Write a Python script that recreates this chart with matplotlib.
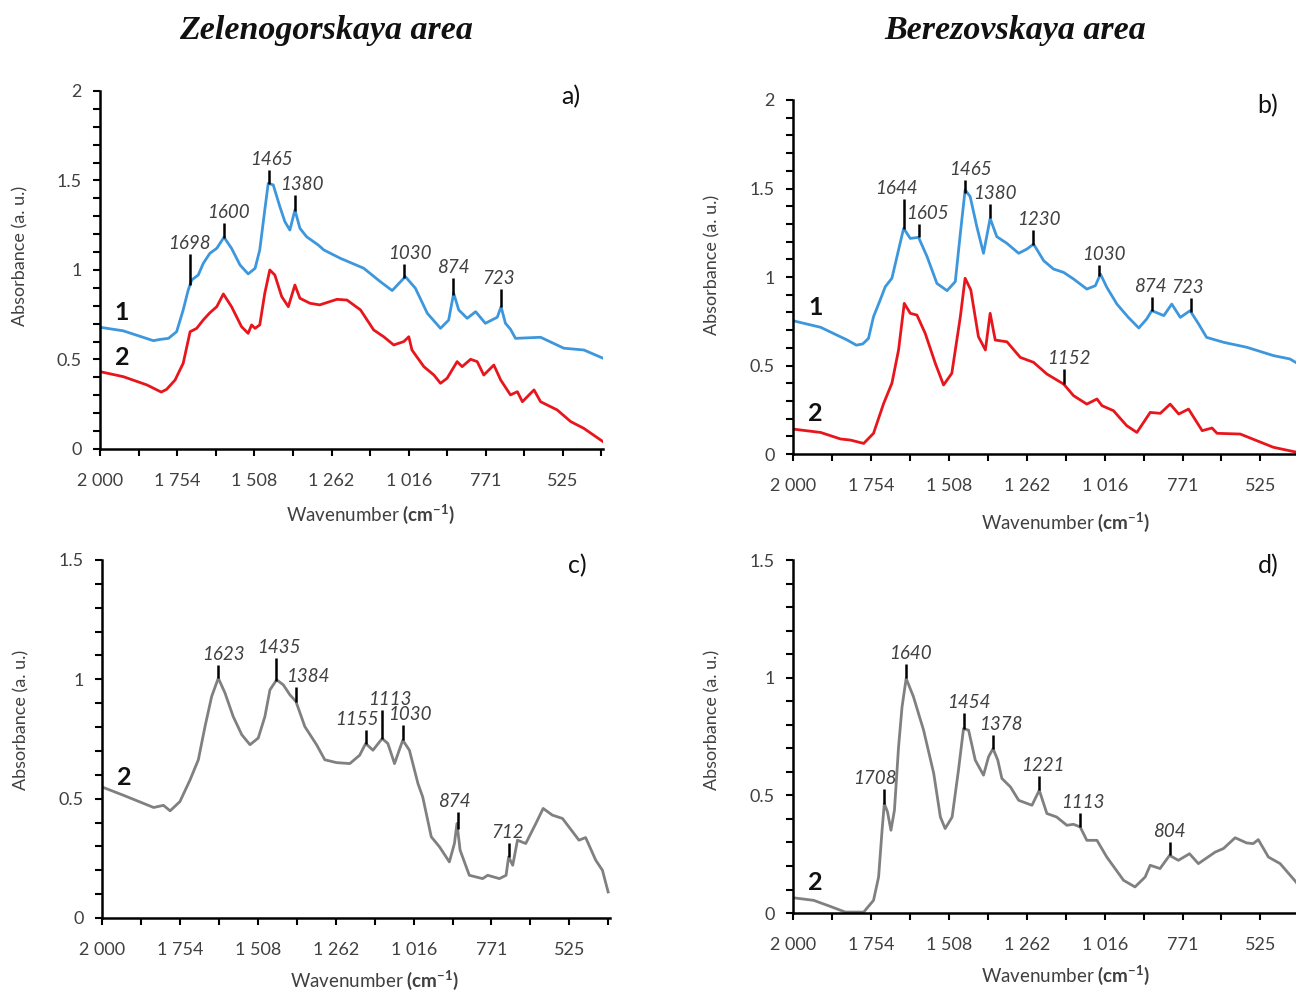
import matplotlib
matplotlib.use("Agg")
import matplotlib.pyplot as plt
import numpy as np

plt.rcParams['font.family'] = ['Lato', 'DejaVu Sans']
plt.rcParams['mathtext.fontset'] = 'custom'
plt.rcParams['mathtext.rm'] = 'Lato'
plt.rcParams['mathtext.bf'] = 'Lato:bold'

BLUE = '#3d97dd'
RED = '#e8161c'
GRAY = '#808080'
TXT = '#404040'

titles = ["Zelenogorskaya area", "Berezovskaya area"]
xtick_vals = [2000, 1754, 1508, 1262, 1016, 771, 525]
xtick_labels = ["2 000", "1 754", "1 508", "1 262", "1 016", "771", "525"]

# (wavenumber, absorbance)
a_curve1 = [(2000, 0.68), (1926, 0.66), (1830, 0.605), (1809, 0.612), (1782, 0.618), (1756, 0.655),
            (1735, 0.777), (1719, 0.888), (1708, 0.944), (1687, 0.972), (1671, 1.037), (1650, 1.093),
            (1628, 1.121), (1605, 1.183), (1581, 1.121), (1554, 1.028), (1528, 0.978), (1506, 1.009),
            (1491, 1.112), (1475, 1.335), (1464, 1.484), (1448, 1.475), (1427, 1.354), (1411, 1.27),
            (1395, 1.223), (1379, 1.335), (1363, 1.233), (1342, 1.186), (1305, 1.14), (1287, 1.112),
            (1234, 1.065), (1160, 1.01), (1107, 0.935), (1069, 0.885), (1027, 0.963),
            (995, 0.898), (957, 0.758), (915, 0.674), (889, 0.72), (873, 0.87), (857, 0.777),
            (830, 0.73), (803, 0.767), (772, 0.702), (734, 0.736), (722, 0.795), (708, 0.702),
            (692, 0.669), (676, 0.618), (596, 0.624), (522, 0.563), (458, 0.553), (397, 0.507)]
a_curve2 = [(2000, 0.432), (1926, 0.404), (1851, 0.358), (1805, 0.318), (1788, 0.333), (1761, 0.385),
            (1735, 0.479), (1713, 0.655), (1692, 0.674), (1671, 0.721), (1650, 0.761), (1628, 0.795),
            (1607, 0.866), (1581, 0.795), (1549, 0.683), (1528, 0.646), (1517, 0.693), (1506, 0.674),
            (1491, 0.693), (1475, 0.87), (1459, 1.0), (1443, 0.972), (1421, 0.851), (1400, 0.795),
            (1379, 0.916), (1363, 0.842), (1331, 0.814), (1300, 0.805), (1245, 0.836), (1213, 0.832),
            (1170, 0.777), (1128, 0.665), (1096, 0.627), (1064, 0.581), (1032, 0.6), (1016, 0.627),
            (1006, 0.553), (968, 0.46), (936, 0.413), (915, 0.367), (894, 0.395), (862, 0.488),
            (846, 0.46), (819, 0.501), (798, 0.488), (777, 0.413), (745, 0.469), (723, 0.385),
            (692, 0.302), (670, 0.32), (654, 0.264), (617, 0.33), (596, 0.264), (543, 0.218),
            (500, 0.153), (458, 0.115), (397, 0.041)]
b_curve1 = [(2000, 0.753), (1913, 0.716), (1830, 0.645), (1800, 0.615), (1780, 0.622), (1762, 0.653),
            (1746, 0.776), (1725, 0.87), (1709, 0.945), (1688, 0.993), (1672, 1.115), (1651, 1.275),
            (1630, 1.218), (1604, 1.224), (1577, 1.115), (1546, 0.964), (1514, 0.923), (1488, 0.974),
            (1472, 1.247), (1457, 1.492), (1441, 1.454), (1420, 1.284), (1399, 1.134), (1378, 1.331),
            (1357, 1.228), (1325, 1.19), (1288, 1.134), (1262, 1.158), (1241, 1.186), (1209, 1.092),
            (1178, 1.045), (1146, 1.026), (1115, 0.989), (1073, 0.932), (1046, 0.951), (1030, 1.017),
            (1010, 0.942), (978, 0.847), (942, 0.772), (909, 0.712), (884, 0.763), (868, 0.81),
            (830, 0.782), (805, 0.847), (778, 0.772), (747, 0.81), (720, 0.734), (695, 0.659),
            (641, 0.631), (568, 0.603), (484, 0.556), (432, 0.537), (397, 0.5)]
b_curve2 = [(2000, 0.141), (1913, 0.122), (1850, 0.085), (1819, 0.079), (1777, 0.06), (1746, 0.117),
            (1714, 0.286), (1688, 0.4), (1667, 0.588), (1649, 0.851), (1630, 0.795), (1609, 0.785),
            (1583, 0.682), (1551, 0.512), (1525, 0.39), (1499, 0.456), (1472, 0.776), (1457, 0.993),
            (1439, 0.927), (1415, 0.663), (1393, 0.588), (1378, 0.795), (1362, 0.644), (1325, 0.634),
            (1283, 0.546), (1241, 0.518), (1199, 0.452), (1146, 0.395), (1115, 0.33), (1073, 0.282),
            (1041, 0.311), (1025, 0.273), (989, 0.245), (947, 0.16), (915, 0.122), (873, 0.235),
            (841, 0.23), (810, 0.282), (783, 0.226), (752, 0.254), (709, 0.132), (678, 0.147),
            (662, 0.117), (589, 0.113), (536, 0.075), (484, 0.038), (397, 0.005)]
c_curve2 = [(2000, 0.549), (1932, 0.514), (1837, 0.463), (1806, 0.472), (1785, 0.449), (1754, 0.488),
            (1722, 0.579), (1696, 0.663), (1675, 0.802), (1654, 0.928), (1633, 1.005), (1612, 0.943),
            (1586, 0.844), (1559, 0.768), (1533, 0.726), (1507, 0.754), (1486, 0.844), (1470, 0.956),
            (1449, 0.998), (1428, 0.977), (1407, 0.935), (1388, 0.907), (1360, 0.802), (1323, 0.726),
            (1297, 0.663), (1260, 0.651), (1218, 0.647), (1187, 0.682), (1168, 0.731), (1145, 0.703),
            (1116, 0.752), (1098, 0.731), (1077, 0.647), (1051, 0.745), (1030, 0.703), (1003, 0.563),
            (988, 0.507), (961, 0.34), (935, 0.298), (904, 0.235), (888, 0.312), (880, 0.396),
            (870, 0.284), (841, 0.179), (799, 0.165), (783, 0.179), (746, 0.165), (725, 0.179),
            (717, 0.256), (704, 0.221), (689, 0.326), (663, 0.312), (631, 0.396), (608, 0.459),
            (579, 0.431), (547, 0.417), (495, 0.326), (474, 0.337), (442, 0.242), (421, 0.2),
            (403, 0.109)]
d_curve2 = [(2000, 0.065), (1935, 0.054), (1882, 0.028), (1835, 0.004), (1777, 0.004), (1746, 0.054),
            (1730, 0.153), (1719, 0.352), (1712, 0.465), (1702, 0.43), (1691, 0.352), (1680, 0.437),
            (1667, 0.706), (1656, 0.876), (1643, 0.997), (1620, 0.919), (1588, 0.777), (1556, 0.593),
            (1535, 0.408), (1520, 0.359), (1498, 0.408), (1478, 0.607), (1462, 0.784), (1446, 0.777),
            (1425, 0.65), (1399, 0.586), (1383, 0.664), (1369, 0.699), (1354, 0.65), (1341, 0.572),
            (1314, 0.536), (1288, 0.479), (1246, 0.458), (1223, 0.522), (1199, 0.423), (1168, 0.408),
            (1136, 0.373), (1115, 0.377), (1094, 0.366), (1073, 0.309), (1041, 0.309), (1010, 0.238),
            (957, 0.139), (921, 0.111), (889, 0.153), (873, 0.203), (842, 0.189), (812, 0.245),
            (784, 0.224), (749, 0.252), (721, 0.21), (668, 0.259), (642, 0.274), (605, 0.32),
            (569, 0.298), (548, 0.295), (532, 0.312), (500, 0.238), (463, 0.21), (413, 0.132),
            (397, 0.1)]

# peak marks: label, where the tick sits (cm-1)
a_peaks = ["1698", "1600", "1465", "1380", "1030", "874", "723"]
a_peak_at = [1714, 1606, 1462, 1380, 1030, 874, 722]
b_peaks = ["1644", "1605", "1465", "1380", "1230", "1030", "874", "723"]
b_peak_at = [1650, 1604, 1458, 1378, 1243, 1033, 868, 745]
b2_peaks = ["1152"]
b2_peak_at = [1146]
c_peaks = ["1623", "1435", "1384", "1155", "1113", "1030", "874", "712"]
c_peak_at = [1633, 1451, 1388, 1168, 1117, 1051, 878, 717]
d_peaks = ["1708", "1640", "1454", "1378", "1221", "1113", "804"]
d_peak_at = [1712, 1643, 1459, 1370, 1223, 1094, 812]

# layout of the peak ticks: (tick length in absorbance, label shift in px)
a_peak_style = [(0.177, 0), (0.084, 5), (0.075, 3), (0.09, 7), (0.075, 5), (0.093, 0), (0.1, -2)]
b_peak_style = [(0.17, -8), (0.075, 9), (0.075, 6), (0.083, 5), (0.08, 6), (0.066, 4), (0.075, -1), (0.079, -3)]
b2_peak_style = [(0.085, 5)]
c_peak_style = [(0.056, 5), (0.095, 3), (0.06, 12), (0.056, -9), (0.12, 8), (0.063, 7), (0.07, -3), (0.06, -1)]
d_peak_style = [(0.061, -9), (0.063, 4), (0.067, 4), (0.059, 8), (0.059, 4), (0.059, 3), (0.057, 0)]


def setup_axes(ax, ymax, letter, xlab_y, ylab_y):
    ax.set_xlim(2000, 397)
    ax.set_ylim(0, ymax)
    for s in ['top', 'right']:
        ax.spines[s].set_visible(False)
    for s in ['left', 'bottom']:
        ax.spines[s].set_linewidth(1.8)
    ax.set_xticks(xtick_vals)
    ax.set_xticklabels(xtick_labels)
    minor = [v - 122.85 for v in xtick_vals] + [2000]
    ax.set_xticks(minor, minor=True)
    yt = np.arange(0, ymax + 0.01, 0.5)
    ax.set_yticks(yt)
    ax.set_yticklabels(["%g" % v for v in yt])
    ax.set_yticks(np.arange(0, ymax + 0.01, 0.1), minor=True)
    ax.tick_params(which='both', direction='out', length=5, width=1.5, color='black')
    ax.tick_params(axis='x', labelsize=13, labelcolor=TXT, pad=12)
    ax.tick_params(axis='y', labelsize=13, labelcolor=TXT, pad=8)
    ax.set_ylabel("Absorbance (a. u.)", fontsize=13, color=TXT, va='center')
    ax.yaxis.set_label_coords(-0.158, ylab_y)
    ax.set_xlabel(r"Wavenumber $\mathbf{(cm^{-1})}$", fontsize=13.5, color=TXT, va='center')
    ax.xaxis.set_label_coords(0.537, xlab_y)
    ax.text(0.935, 0.985, letter, transform=ax.transAxes, fontsize=18, color='#111111',
            ha='center', va='center')


def draw_curve(ax, curve, color, name):
    wn = [p[0] for p in curve]
    ab = [p[1] for p in curve]
    ax.plot(wn, ab, color=color, lw=2.0, solid_joinstyle='round')
    y0 = np.interp(1930, wn[::-1], ab[::-1])
    ax.annotate(name, (1930, y0), xytext=(0, 7), textcoords='offset pixels',
                ha='center', va='bottom', fontsize=18, fontweight='bold', color='#111111')


def draw_peaks(ax, curve, labels, at, style):
    wn = [p[0] for p in curve][::-1]
    ab = [p[1] for p in curve][::-1]
    for lab, x, (ln, dx) in zip(labels, at, style):
        yb = np.interp(x, wn, ab)
        ax.plot([x, x], [yb, yb + ln], color='black', lw=1.8, solid_capstyle='butt')
        ax.annotate(lab, (x, yb + ln), xytext=(dx, 2), textcoords='offset pixels',
                    ha='center', va='bottom', fontsize=13.5, style='italic', color=TXT)


fig = plt.figure(figsize=(12.96, 9.92), dpi=100)
ax_a = fig.add_axes([0.0772, 0.5474, 0.3881, 0.3609])
ax_b = fig.add_axes([0.6119, 0.5423, 0.3920, 0.3569])
ax_c = fig.add_axes([0.0787, 0.0746, 0.3920, 0.3609])
ax_d = fig.add_axes([0.6119, 0.0796, 0.3920, 0.3558])

setup_axes(ax_a, 2.0, "a)", -0.184, 0.54)
draw_curve(ax_a, a_curve1, BLUE, "1")
draw_curve(ax_a, a_curve2, RED, "2")
draw_peaks(ax_a, a_curve1, a_peaks, a_peak_at, a_peak_style)

setup_axes(ax_b, 2.0, "b)", -0.192, 0.534)
draw_curve(ax_b, b_curve1, BLUE, "1")
draw_curve(ax_b, b_curve2, RED, "2")
draw_peaks(ax_b, b_curve1, b_peaks, b_peak_at, b_peak_style)
draw_peaks(ax_b, b_curve2, b2_peaks, b2_peak_at, b2_peak_style)

setup_axes(ax_c, 1.5, "c)", -0.173, 0.553)
draw_curve(ax_c, c_curve2, GRAY, "2")
draw_peaks(ax_c, c_curve2, c_peaks, c_peak_at, c_peak_style)

setup_axes(ax_d, 1.5, "d)", -0.176, 0.547)
draw_curve(ax_d, d_curve2, GRAY, "2")
draw_peaks(ax_d, d_curve2, d_peaks, d_peak_at, d_peak_style)

fig.text(326 / 1296, 1 - 30 / 992, titles[0], family='Liberation Serif', style='italic',
         fontweight='bold', fontsize=24.5, ha='center', va='center', color='#111111')
fig.text(1015 / 1296, 1 - 30 / 992, titles[1], family='Liberation Serif', style='italic',
         fontweight='bold', fontsize=24.5, ha='center', va='center', color='#111111')

fig.savefig("out.png", dpi=100)
